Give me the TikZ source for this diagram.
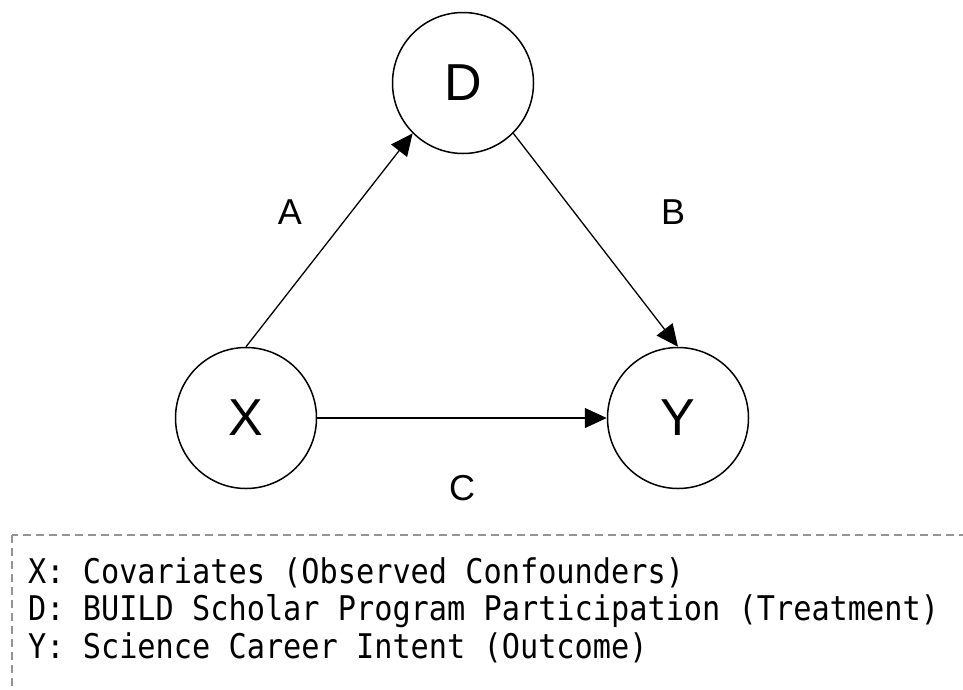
\documentclass[tikz,border=0pt]{standalone}
\usepackage{fontspec}
\setmainfont{Liberation Sans}
\newfontfamily\legendfont[FakeStretch=0.89]{DejaVu Sans Mono}
\usetikzlibrary{arrows.meta}

\begin{document}
\begin{tikzpicture}[x=1pt,y=-1pt,
    var/.style={draw,circle,line width=1.5pt,minimum size=141pt,inner sep=0pt,font=\fontsize{52}{52}\selectfont},
    link/.style={-{Triangle[length=22pt,width=20pt]},line width=1.3pt},
    lab/.style={inner sep=0pt,font=\fontsize{36}{36}\selectfont},
    legline/.style={anchor=base west,inner sep=0pt,font=\legendfont\fontsize{34}{34}\selectfont},
    legbox/.style={draw=black!42,line width=1.3pt,dash pattern=on 8pt off 5pt}]
    \useasboundingbox (0,0) rectangle (963,689);
    \clip (0,0) rectangle (963,689);
      \node[var] (D) at (463,83) {D};
      \node[var] (X) at (246,418) {X};
      \node[var] (Y) at (678,418) {Y};
      \draw[link] (X.north) -- (D.225);
      \draw[link] (D.-45) -- (Y.north);
      \draw[link] (X.east) -- (Y.west);
      \node[lab] (labA) at (290,212) {A};
      \node[lab] (labB) at (673,212) {B};
      \node[lab] (labC) at (462,488) {C};
      \draw[legbox] (12,535) rectangle (1000,720);
      \node[legline] (legX) at (28,583) {X: Covariates (Observed Confounders)};
      \node[legline] (legD) at (28,620.5) {D: BUILD Scholar Program Participation (Treatment)};
      \node[legline] (legY) at (28,658) {Y: Science Career Intent (Outcome)};
    \end{tikzpicture}
\end{document}
